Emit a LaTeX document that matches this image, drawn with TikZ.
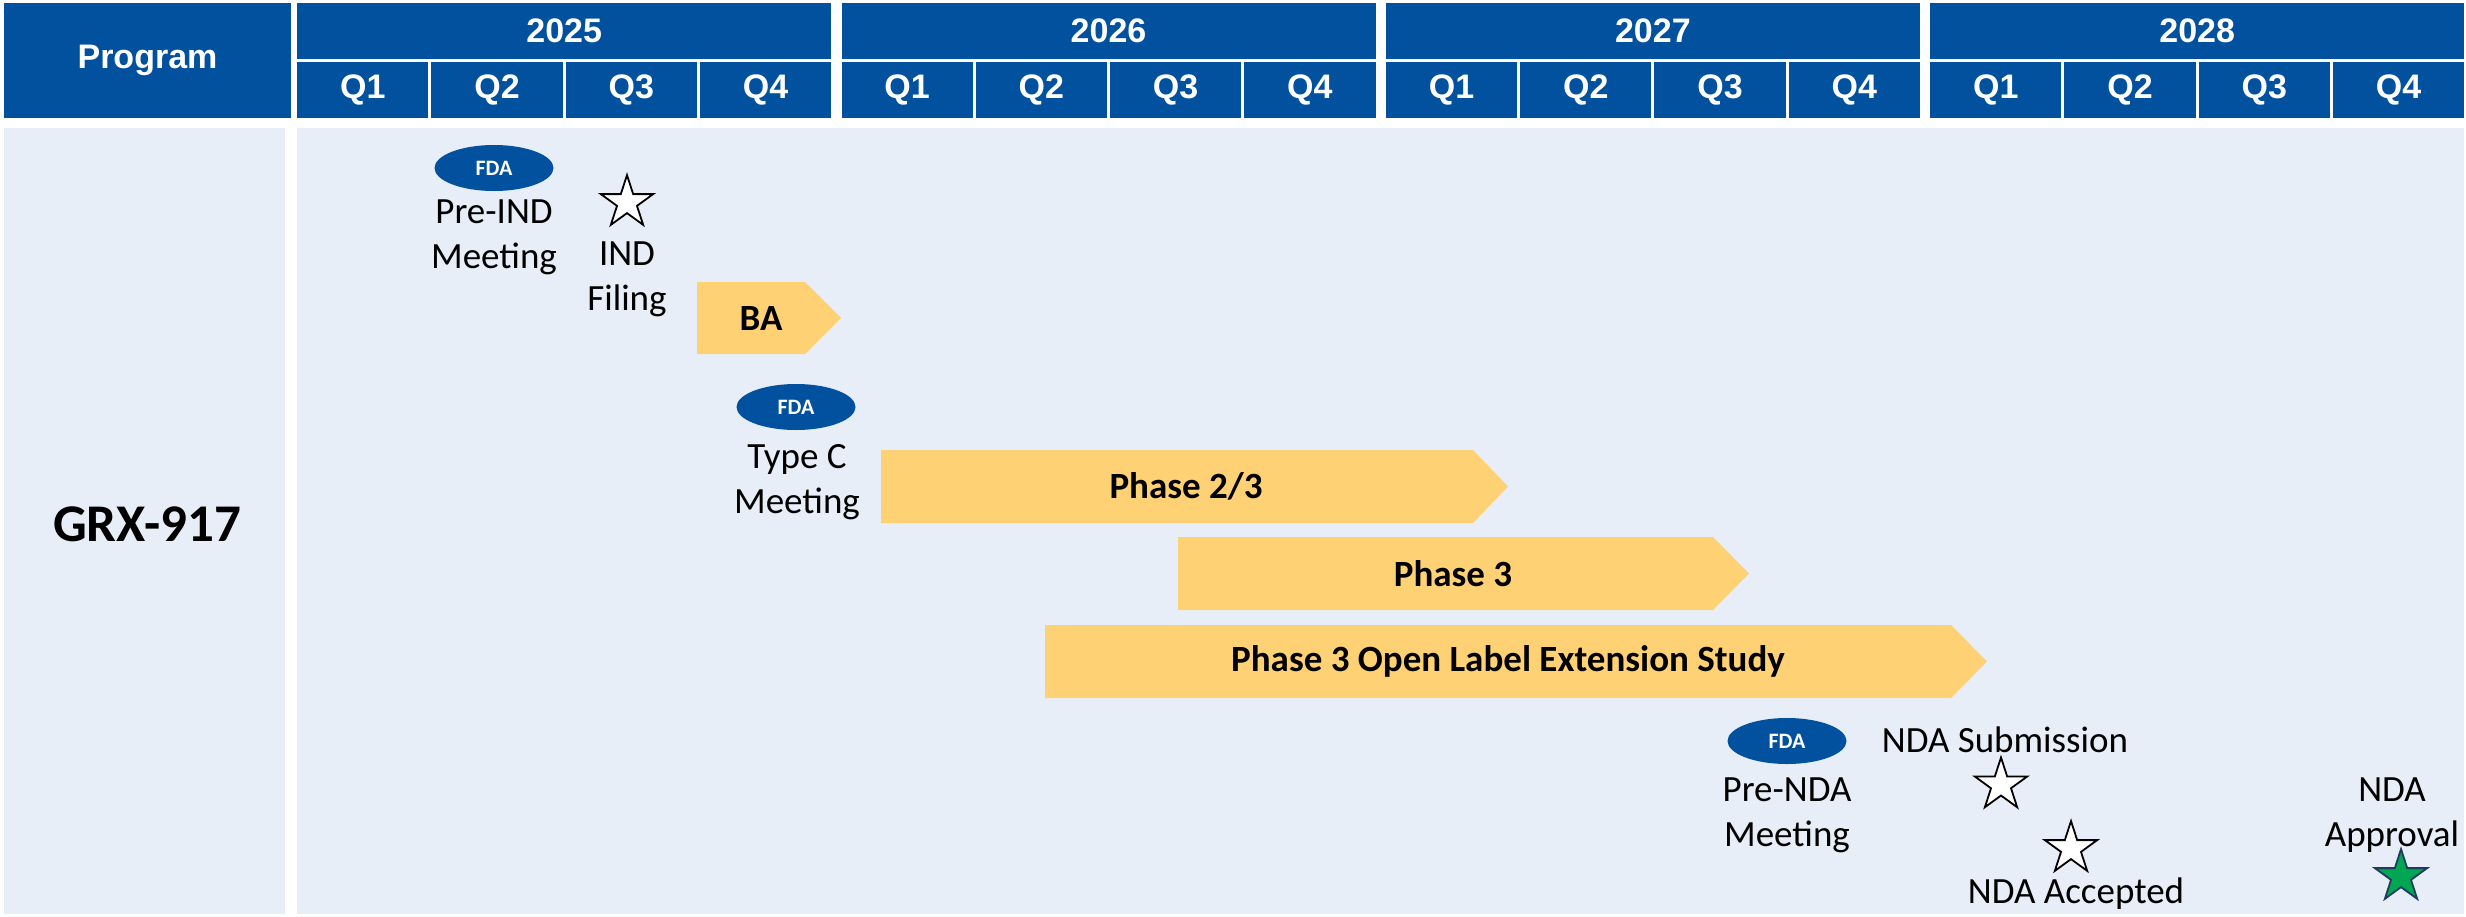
\documentclass[tikz,border=0pt]{standalone}
\usepackage{fontspec}
\setmainfont{Carlito}
\newfontfamily\hdrfont{Liberation Sans}
\usetikzlibrary{shapes.geometric}

\definecolor{hdrblue}{HTML}{01519E}
\definecolor{bodybg}{HTML}{E7EEF7}
\definecolor{baryellow}{HTML}{FFD175}
\definecolor{apprgreen}{HTML}{00A651}
\definecolor{starline}{HTML}{1F3B5E}

\begin{document}
\begin{tikzpicture}[x=1pt,y=-1pt,
  hdrcell/.style={fill=hdrblue, draw=none, inner sep=0pt, text=white,
    font=\hdrfont\bfseries\fontsize{34}{40}\selectfont},
  bodycell/.style={fill=bodybg, draw=none, inner sep=0pt, anchor=north west},
  fdaoval/.style={ellipse, fill=hdrblue, draw=none, inner sep=0pt,
    minimum width=119pt, minimum height=46pt, text=white,
    font=\bfseries\fontsize{22}{26}\selectfont},
  lbl/.style={align=center, inner sep=0pt, font=\fontsize{37}{45}\selectfont},
  barlbl/.style={inner sep=0pt, font=\bfseries\fontsize{37}{45}\selectfont},
  bar/.style={fill=baryellow, draw=none},
  mstar/.style={star, star points=5, star point ratio=2.618, minimum size=55pt,
    inner sep=0pt, draw=black, line width=1.8pt, fill=white},
  gstar/.style={mstar, draw=starline, fill=apprgreen}
]
\useasboundingbox (0,0) rectangle (2466,916);
\fill[white] (0,0) rectangle (2466,916);

% ---------- header ----------
\node[hdrcell, minimum width=287pt, minimum height=115pt] (prog) at (147.5,60.5) {Program};
\foreach \i/\yr in {0/2025,1/2026,2/2027,3/2028}{
  \pgfmathsetmacro\xs{297+\i*544.33}
  \node[hdrcell, minimum width=534pt, minimum height=56pt, anchor=north west]
    (y\yr) at (\xs,3) {\yr};
  \foreach \q in {1,...,4}{
    \pgfmathsetmacro\qx{\xs+(\q-1)*134.25}
    \node[hdrcell, minimum width=131.25pt, minimum height=56pt, anchor=north west]
      (q\yr-\q) at (\qx,62) {Q\q};
  }
}

% ---------- body ----------
\node[bodycell, minimum width=281pt, minimum height=786pt] (lcell) at (4,128) {};
\node[bodycell, minimum width=2167pt, minimum height=786pt] (rcell) at (297,128) {};
\node[inner sep=0pt, font=\bfseries\fontsize{53}{60}\selectfont] (prgname) at (147,524) {GRX-917};

% ---------- FDA meetings ----------
\node[fdaoval] (fda1) at (494,168) {FDA};
\node[lbl] (preind) at (494,237) {Pre-IND\\Meeting};
\node[fdaoval] (fda2) at (796,407) {FDA};
\node[lbl] (typec) at (797,482) {Type C\\Meeting};
\node[fdaoval] (fda3) at (1787,741) {FDA};
\node[lbl] (prenda) at (1787,815) {Pre-NDA\\Meeting};

% ---------- milestones ----------
\node[mstar] (indstar) at (627,202.6) {};
\node[lbl] (indfiling) at (627,279) {IND\\Filing};
\node[lbl] (ndasub) at (2005,740) {NDA Submission};
\node[mstar] (substar) at (2001,785) {};
\node[mstar] (accstar) at (2071,848.6) {};
\node[lbl] (ndaacc) at (2076,894) {NDA Accepted};
\node[lbl] (ndaappr) at (2392,815) {NDA\\Approval};
\node[gstar] (apprstar) at (2401,876.6) {};

% ---------- study bars ----------
\fill[bar] (697,282) -- (805,282) -- (841,318) -- (805,354) -- (697,354) -- cycle;
\node[barlbl] (ba) at (761,318) {BA};
\fill[bar] (881,450) -- (1473,450) -- (1508,486.5) -- (1473,523) -- (881,523) -- cycle;
\node[barlbl] (ph23) at (1186,486.5) {Phase 2/3};
\fill[bar] (1178,537) -- (1713,537) -- (1749,573.5) -- (1713,610) -- (1178,610) -- cycle;
\node[barlbl] (ph3) at (1453,573.5) {Phase 3};
\fill[bar] (1045,625) -- (1951,625) -- (1987,661.5) -- (1951,698) -- (1045,698) -- cycle;
\node[barlbl] (ole) at (1508,661.5) {Phase 3 Open Label Extension Study};
\end{tikzpicture}
\end{document}
